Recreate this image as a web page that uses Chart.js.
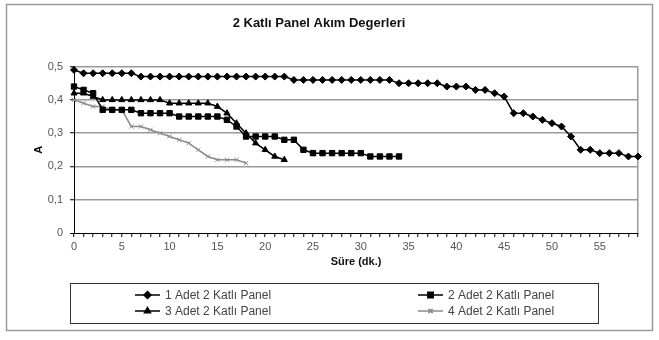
<!DOCTYPE html>
<html>
<head>
<meta charset="utf-8">
<script src="https://cdn.jsdelivr.net/npm/chart.js@4.4.1/dist/chart.umd.min.js"></script>
<style>
  html, body { margin: 0; padding: 0; background: #fff; }
  #wrap { width: 659px; height: 340px; }
</style>
</head>
<body>
<div id="wrap"><canvas id="c" width="659" height="340"></canvas></div>
<script>
// Time axis (minutes) and measured currents for each panel configuration
const minutes = [0,1,2,3,4,5,6,7,8,9,10,11,12,13,14,15,16,17,18,19,20,21,22,23,24,25,26,27,28,29,
                 30,31,32,33,34,35,36,37,38,39,40,41,42,43,44,45,46,47,48,49,50,51,52,53,54,55,56,57,58,59];
const yTickLabels = ['0', '0,1', '0,2', '0,3', '0,4', '0,5'];
const seriesNames = ['1 Adet 2 Katlı Panel', '2 Adet 2 Katlı Panel', '3 Adet 2 Katlı Panel', '4 Adet 2 Katlı Panel'];
const chartTitle = '2 Katlı Panel Akım Degerleri';
const xTitle = 'Süre (dk.)';
const yTitle = 'A';

const panel1 = [0.49, 0.48, 0.48, 0.48, 0.48, 0.48, 0.48,
  0.47, 0.47, 0.47, 0.47, 0.47, 0.47, 0.47, 0.47, 0.47, 0.47, 0.47, 0.47, 0.47, 0.47, 0.47, 0.47,
  0.46, 0.46, 0.46, 0.46, 0.46, 0.46, 0.46, 0.46, 0.46, 0.46, 0.46,
  0.45, 0.45, 0.45, 0.45, 0.45, 0.44, 0.44, 0.44, 0.43, 0.43, 0.42, 0.41,
  0.36, 0.36, 0.35, 0.34, 0.33, 0.32, 0.29, 0.25, 0.25, 0.24, 0.24, 0.24, 0.23, 0.23];
const panel2 = [0.44, 0.43, 0.42, 0.37, 0.37, 0.37, 0.37, 0.36, 0.36, 0.36, 0.36,
  0.35, 0.35, 0.35, 0.35, 0.35, 0.34, 0.32, 0.29, 0.29, 0.29, 0.29, 0.28, 0.28, 0.25,
  0.24, 0.24, 0.24, 0.24, 0.24, 0.24, 0.23, 0.23, 0.23, 0.23];
const panel3 = [0.42, 0.42, 0.41, 0.40, 0.40, 0.40, 0.40, 0.40, 0.40, 0.40,
  0.39, 0.39, 0.39, 0.39, 0.39, 0.38, 0.36, 0.33, 0.30, 0.27, 0.25, 0.23, 0.22];
const panel4 = [0.40, 0.39, 0.38, 0.38, 0.37, 0.37, 0.32, 0.32, 0.31, 0.30,
  0.29, 0.28, 0.27, 0.25, 0.23, 0.22, 0.22, 0.22, 0.21];

Chart.defaults.font.family = "'Liberation Sans', Arial, sans-serif";

// White page, outer frame and a boxed two-column legend
const framePlugin = {
  id: 'frame',
  beforeDraw(chart) {
    const ctx = chart.ctx;
    ctx.save();
    ctx.fillStyle = '#fff';
    ctx.fillRect(0, 0, chart.width, chart.height);
    ctx.restore();
  },
  afterDraw(chart) {
    const ctx = chart.ctx;
    ctx.save();
    ctx.strokeStyle = '#9a9a9a';
    ctx.lineWidth = 1.5;
    ctx.strokeRect(6.5, 4.5, 646, 326);

    // legend box
    ctx.strokeStyle = '#333';
    ctx.lineWidth = 1;
    ctx.strokeRect(70.5, 283.5, 528, 40);

    const slots = [[135, 295], [418, 295], [135, 311], [418, 311]];
    chart.data.datasets.forEach((ds, i) => {
      const [x, y] = slots[i];
      ctx.strokeStyle = ds.borderColor;
      ctx.lineWidth = ds.borderWidth;
      ctx.beginPath();
      ctx.moveTo(x, y);
      ctx.lineTo(x + 25, y);
      ctx.stroke();
      ctx.fillStyle = ds.pointBackgroundColor;
      ctx.strokeStyle = ds.pointBorderColor;
      Chart.helpers.drawPoint(ctx, {
        pointStyle: ds.pointStyle, radius: ds.pointRadius, rotation: 0, borderWidth: 1
      }, x + 12.5, y);
      ctx.fillStyle = '#444';
      ctx.font = "12px 'Liberation Sans', Arial, sans-serif";
      ctx.textBaseline = 'middle';
      ctx.textAlign = 'left';
      ctx.fillText(ds.label, x + 30, y + 0.5);
    });
    ctx.restore();
  }
};

function series(label, data, style, radius, color) {
  return {
    label, data,
    borderColor: color, borderWidth: 1.5,
    pointStyle: style, pointRadius: radius,
    pointBackgroundColor: color, pointBorderColor: color, pointBorderWidth: 1,
    tension: 0, fill: false, clip: false
  };
}

new Chart(document.getElementById('c'), {
  type: 'line',
  data: {
    labels: minutes,
    datasets: [
      series(seriesNames[0], panel1, 'rectRot', 3.5, '#000'),
      series(seriesNames[1], panel2, 'rect', 3.8, '#000'),
      series(seriesNames[2], panel3, 'triangle', 3.5, '#000'),
      series(seriesNames[3], panel4, 'crossRot', 3, '#8a8a8a')
    ]
  },
  options: {
    responsive: false,
    animation: false,
    devicePixelRatio: 1,
    layout: { padding: { left: 0, right: 21, top: 4, bottom: 67 } },
    plugins: {
      legend: { display: false },
      tooltip: { enabled: false },
      title: {
        display: true, text: chartTitle, color: '#111',
        font: { size: 13, weight: 'bold' },
        padding: { top: 12, bottom: 35 }
      }
    },
    scales: {
      x: {
        type: 'category',
        offset: false,
        border: { color: '#000', width: 1 },
        grid: {
          drawOnChartArea: true,
          color: (c) => (c.index === minutes.length - 1 ? '#9a9a9a' : 'rgba(0,0,0,0)'),
          lineWidth: 1.5,
          tickColor: '#000',
          tickLength: 4,
          tickWidth: 1
        },
        ticks: {
          autoSkip: false, maxRotation: 0, minRotation: 0, padding: 3,
          color: '#555', font: { size: 11 },
          callback: (v, i) => (i % 5 === 0 ? String(minutes[i]) : '')
        },
        title: {
          display: true, text: xTitle, color: '#111',
          font: { size: 11, weight: 'bold' },
          padding: { top: 0, bottom: 4 }
        },
        afterFit: (s) => { s.height = 40; }
      },
      y: {
        min: 0, max: 0.5,
        border: { color: '#000', width: 1 },
        grid: {
          color: (c) => (c.tick && c.tick.value === 0 ? '#000' : '#9a9a9a'),
          lineWidth: (c) => (c.tick && c.tick.value === 0 ? 1 : 1.5),
          tickColor: '#000',
          tickLength: 4,
          tickWidth: 1
        },
        ticks: {
          stepSize: 0.1, padding: 7, color: '#555', font: { size: 11 },
          callback: (v, i) => yTickLabels[i]
        },
        title: {
          display: true, text: yTitle, color: '#111',
          font: { size: 11, weight: 'bold' },
          padding: { top: 32, bottom: 0 }
        },
        afterFit: (s) => { s.width = 74; }
      }
    }
  },
  plugins: [framePlugin]
});
</script>
</body>
</html>
